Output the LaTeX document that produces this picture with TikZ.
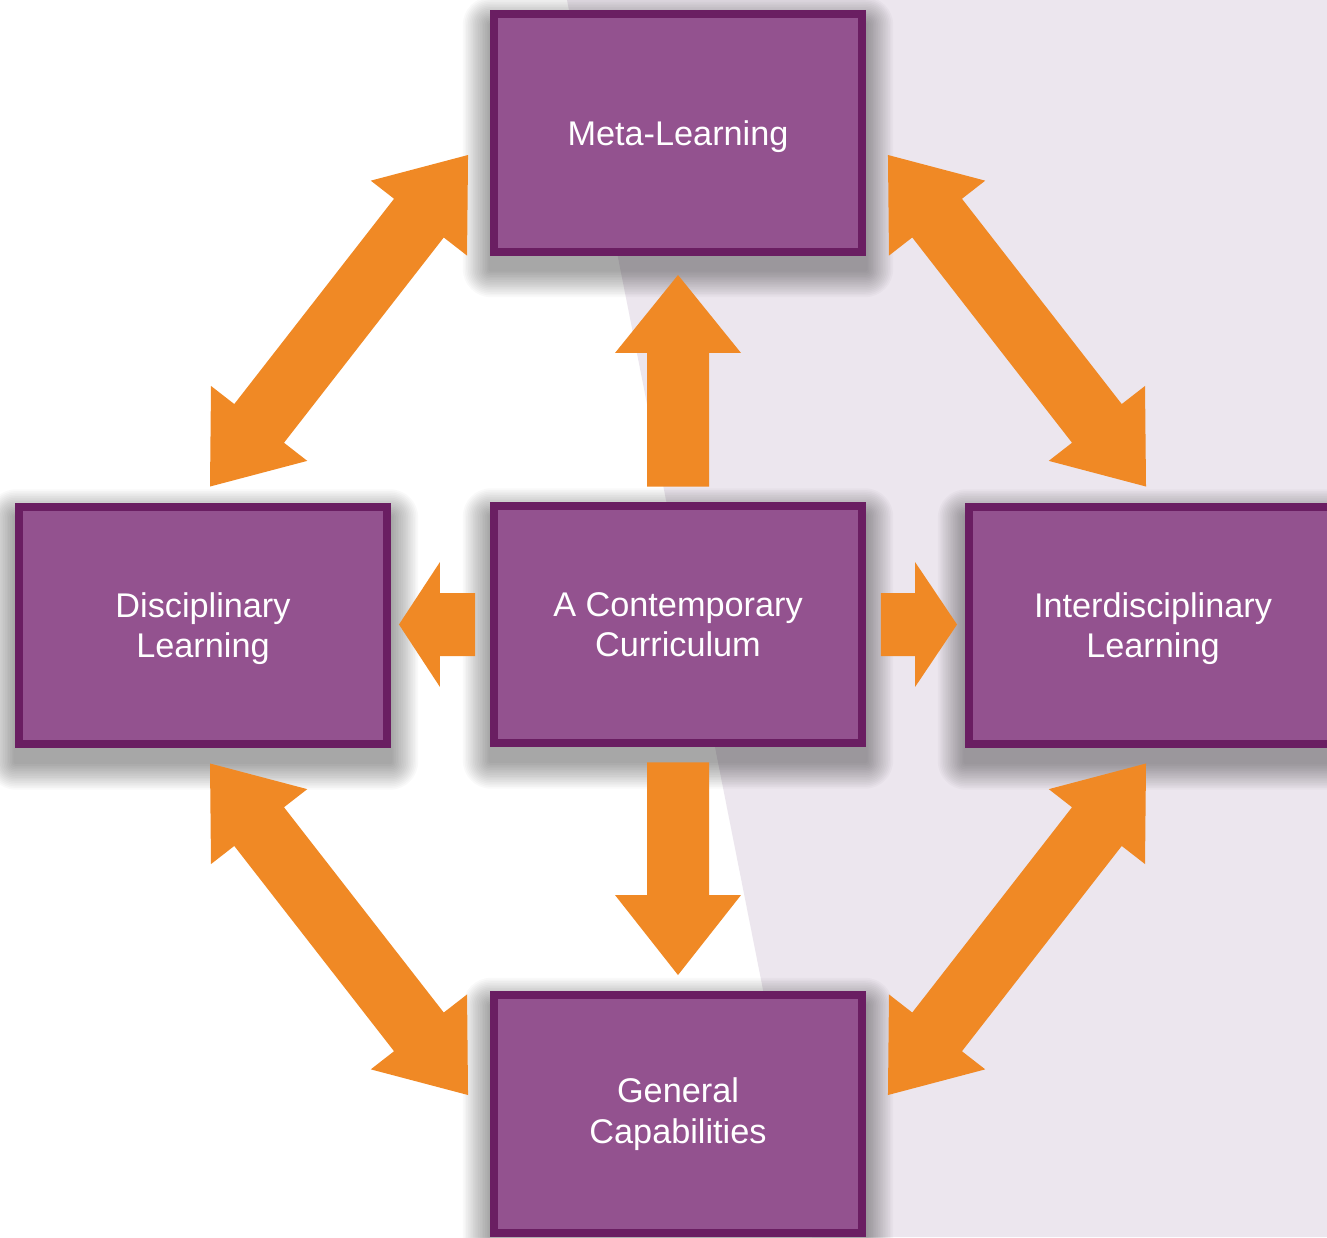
\documentclass[tikz,border=0pt]{standalone}
\usepackage{fontspec}
\setmainfont{Liberation Sans}
\usetikzlibrary{calc}
\pgfdeclarelayer{back}
\pgfdeclarelayer{shade}
\pgfsetlayers{back,shade,main}
\definecolor{boxfill}{RGB}{147,82,143}
\definecolor{boxline}{RGB}{106,30,98}
\definecolor{arroworange}{RGB}{240,137,37}
\definecolor{lavender}{RGB}{236,230,238}
% double-headed block arrow between two coordinates
% #1 end A, #2 end B, #3 head length, #4 head half width, #5 shaft half width
\newcommand{\dblblockarrow}[5]{%
  \coordinate (ha) at ($(#1)!#3!(#2)$);
  \coordinate (hb) at ($(#2)!#3!(#1)$);
  \fill[arrowfill] (#1) -- ($(ha)!#4!90:(#2)$) -- ($(ha)!#5!90:(#2)$)
    -- ($(hb)!#5!-90:(#1)$) -- ($(hb)!#4!-90:(#1)$) -- (#2)
    -- ($(hb)!#4!90:(#1)$) -- ($(hb)!#5!90:(#1)$)
    -- ($(ha)!#5!-90:(#2)$) -- ($(ha)!#4!-90:(#2)$) -- cycle;
}
% single-headed block arrow: #1 tail, #2 tip
\newcommand{\sglblockarrow}[5]{%
  \coordinate (ha) at ($(#2)!#3!(#1)$);
  \fill[arrowfill] ($(#1)!#5!90:(#2)$) -- ($(ha)!#5!90:(#2)$) -- ($(ha)!#4!90:(#2)$)
    -- (#2) -- ($(ha)!#4!-90:(#2)$) -- ($(ha)!#5!-90:(#2)$)
    -- ($(#1)!#5!-90:(#2)$) -- cycle;
}
% soft drop shadow under a node
\newcommand{\softshadow}[1]{%
  \begin{pgfonlayer}{shade}
  \foreach \k in {1,...,16}{%
    \fill[black, opacity=0.022, rounded corners=\k*0.035cm]
      ($(#1.north west)+(-\k*1.7,14-\k*1.7)$) rectangle ($(#1.south east)+(\k*1.7,14+\k*1.7)$);
  }
  \end{pgfonlayer}
}
\newcommand{\lowered}[1]{\raisebox{-0.08cm}[\height][\depth]{#1}}
\begin{document}
\begin{tikzpicture}[x=0.02cm,y=-0.02cm,
  box/.style={rectangle, fill=boxfill, draw=boxline, line width=0.16cm,
    minimum width=7.36cm, minimum height=4.76cm, inner sep=0pt,
    text=white, align=center, font=\fontsize{19.5pt}{22.5pt}\selectfont},
  arrowfill/.style={fill=arroworange}]
\useasboundingbox (0,0) rectangle (1327,1237);
\clip (0,0) rectangle (1327,1237);
\begin{pgfonlayer}{back}
\fill[white] (0,0) rectangle (1327,1237);
\fill[lavender] (567,0) -- (1327,0) -- (1327,1237) -- (812,1237) -- cycle;
\end{pgfonlayer}

\node[box] (meta) at (678,133) {\lowered{Meta-Learning}};
\node[box] (center) at (678,624.5) {\lowered{\begin{tabular}{@{}c@{}}A Contemporary\\[0.6pt]Curriculum\end{tabular}}};
\node[box] (disc) at (203,625.5) {\lowered{\begin{tabular}{@{}c@{}}Disciplinary\\[0.6pt]Learning\end{tabular}}};
\node[box] (inter) at (1153,625.5) {\lowered{\begin{tabular}{@{}c@{}}Interdisciplinary\\[0.6pt]Learning\end{tabular}}};
\node[box] (gen) at (678,1114) {\raisebox{-0.02cm}[\height][\depth]{\begin{tabular}{@{}c@{}}General\\[0.6pt]Capabilities\end{tabular}}};
\softshadow{meta}
\softshadow{center}
\softshadow{disc}
\softshadow{inter}
\softshadow{gen}

% straight arrows
\coordinate (upT) at ($(center.north)+(0,-15)$);
\coordinate (upH) at ($(meta.south)+(0,19)$);
\coordinate (dnT) at ($(center.south)+(0,15)$);
\coordinate (dnH) at ($(gen.north)+(0,-16)$);
\coordinate (lfT) at ($(center.west)+(-15,0)$);
\coordinate (lfH) at ($(disc.east)+(8,-1)$);
\coordinate (rtT) at ($(center.east)+(15,0)$);
\coordinate (rtH) at ($(inter.west)+(-8,-1)$);
\sglblockarrow{upT}{upH}{1.56cm}{1.26cm}{0.62cm}
\sglblockarrow{dnT}{dnH}{1.6cm}{1.26cm}{0.62cm}
\sglblockarrow{lfT}{lfH}{0.82cm}{1.25cm}{0.63cm}
\sglblockarrow{rtT}{rtH}{0.84cm}{1.25cm}{0.63cm}

% diagonal double arrows
\coordinate (tlA) at ($(meta.west)+(-22,22)$);
\coordinate (tlB) at ($(disc.north)+(7,-16)$);
\coordinate (trA) at ($(meta.east)+(22,22)$);
\coordinate (trB) at ($(inter.north)+(-7,-16)$);
\coordinate (blA) at ($(gen.west)+(-22,-19)$);
\coordinate (blB) at ($(disc.south)+(7,15)$);
\coordinate (brA) at ($(gen.east)+(22,-19)$);
\coordinate (brB) at ($(inter.south)+(-7,15)$);
\dblblockarrow{tlA}{tlB}{1.6cm}{1.22cm}{0.63cm}
\dblblockarrow{trA}{trB}{1.6cm}{1.22cm}{0.63cm}
\dblblockarrow{blA}{blB}{1.6cm}{1.22cm}{0.63cm}
\dblblockarrow{brA}{brB}{1.6cm}{1.22cm}{0.63cm}
\end{tikzpicture}
\end{document}
